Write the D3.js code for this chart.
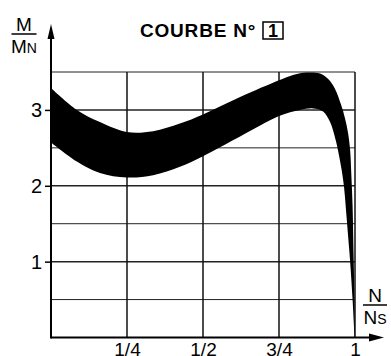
<!DOCTYPE html>
<html>
<head>
<meta charset="utf-8">
<script src="https://cdn.jsdelivr.net/npm/d3@7"></script>
<style>
  html, body { margin: 0; padding: 0; background: #fff; }
  svg { display: block; font-family: "Liberation Sans", Arial, Helvetica, sans-serif; }
</style>
</head>
<body>
<svg id="chart" width="391" height="356"></svg>
<script>
// Torque / speed band (M/MN versus N/NS): upper and lower limits
const upperSpeed  = [0.000, 0.085, 0.161, 0.249, 0.336, 0.424, 0.500, 0.622, 0.750, 0.789, 0.830, 0.885, 0.911, 0.934, 0.954, 0.967, 0.977, 0.984, 0.988, 0.992, 0.995, 0.998, 1.000];
const upperTorque = [3.29, 3.00, 2.84, 2.71, 2.72, 2.82, 2.94, 3.17, 3.39, 3.45, 3.49, 3.48, 3.41, 3.28, 3.07, 2.89, 2.70, 2.47, 2.14, 1.74, 1.15, 0.56, 0.00];
const lowerSpeed  = [0.000, 0.085, 0.161, 0.249, 0.336, 0.424, 0.500, 0.622, 0.750, 0.819, 0.862, 0.895, 0.918, 0.934, 0.944, 0.956, 0.964, 0.970, 0.977, 0.984, 0.992, 0.998];
const lowerTorque = [2.57, 2.32, 2.17, 2.11, 2.14, 2.25, 2.39, 2.65, 2.92, 3.00, 3.02, 2.98, 2.84, 2.64, 2.47, 2.21, 1.98, 1.70, 1.35, 1.00, 0.50, 0.05];

const xTickValues = [0.25, 0.5, 0.75, 1];
const xTickLabels = ["1/4", "1/2", "3/4", "1"];
const yTickValues = [1, 2, 3];
const yTickLabels = ["1", "2", "3"];
const yGridValues = [0.5, 1, 1.5, 2, 2.5, 3, 3.5];
const curveNumber = "1";

const svg = d3.select("#chart");
const x = d3.scaleLinear().domain([0, 1]).range([51, 355]);
const y = d3.scaleLinear().domain([0, 3.5]).range([337.5, 72]);

// grid
const grid = svg.append("g");
grid.selectAll("line.h").data(yGridValues).join("line")
  .attr("x1", x(0)).attr("x2", x(1))
  .attr("y1", d => y(d)).attr("y2", d => y(d))
  .attr("stroke", "#222")
  .attr("stroke-width", d => Number.isInteger(d) ? 1.5 : 1);
grid.selectAll("line.v").data(xTickValues).join("line")
  .attr("x1", d => x(d)).attr("x2", d => x(d))
  .attr("y1", y(0)).attr("y2", y(3.5))
  .attr("stroke", "#111")
  .attr("stroke-width", 1.5);

// band: area under the upper limit minus area under the lower limit
const smooth = d3.line().curve(d3.curveCatmullRom.alpha(0.5));
const upperPts = upperSpeed.map((s, i) => [x(s), y(upperTorque[i])]);
const lowerPts = lowerSpeed.map((s, i) => [x(s), y(lowerTorque[i])]);
const closeDown = p => `L${p[p.length - 1][0]},${y(0)}L${x(0)},${y(0)}Z`;
svg.append("path")
  .attr("d", smooth(upperPts) + closeDown(upperPts) + smooth(lowerPts) + closeDown(lowerPts))
  .attr("fill-rule", "evenodd")
  .attr("fill", "#000");

// axes
const xAxis = d3.axisBottom(x).tickValues(xTickValues)
  .tickFormat((d, i) => xTickLabels[i]).tickSize(0).tickPadding(5);
const gx = svg.append("g").attr("transform", `translate(0,${y(0)})`).call(xAxis);
gx.select(".domain").remove();
gx.selectAll(".tick text").attr("font-size", 19).attr("fill", "#000")
  .attr("font-family", "Liberation Sans, Arial, sans-serif");

const yAxis = d3.axisLeft(y).tickValues(yTickValues)
  .tickFormat((d, i) => yTickLabels[i]).tickSize(6).tickPadding(3);
const gy = svg.append("g").attr("transform", `translate(${x(0)},0)`).call(yAxis);
gy.select(".domain").remove();
gy.selectAll(".tick line").attr("stroke", "#000").attr("stroke-width", 1.5);
gy.selectAll(".tick text").attr("font-size", 20).attr("fill", "#000")
  .attr("font-family", "Liberation Sans, Arial, sans-serif");

// axis lines with arrows
svg.append("line").attr("x1", x(0)).attr("x2", 372).attr("y1", y(0)).attr("y2", y(0))
  .attr("stroke", "#000").attr("stroke-width", 2);
svg.append("path")
  .attr("d", `M384,${y(0)} L369,${y(0) - 4} L369,${y(0) + 4} Z`).attr("fill", "#000");
svg.append("line").attr("x1", x(0)).attr("x2", x(0)).attr("y1", y(0) + 1).attr("y2", 36)
  .attr("stroke", "#000").attr("stroke-width", 2);
svg.append("path")
  .attr("d", `M${x(0)},24 L${x(0) - 3.5},39 L${x(0) + 3.5},39 Z`).attr("fill", "#000");

// axis titles as fractions
function fraction(cx, topY, num, den, sub, lineW) {
  const g = svg.append("g");
  g.append("text").attr("x", cx).attr("y", topY).attr("text-anchor", "middle")
    .attr("font-size", 19).text(num);
  g.append("line").attr("x1", cx - lineW / 2).attr("x2", cx + lineW / 2)
    .attr("y1", topY + 3).attr("y2", topY + 3)
    .attr("stroke", "#000").attr("stroke-width", 1.5);
  const t = g.append("text").attr("x", cx).attr("y", topY + 22).attr("text-anchor", "middle")
    .attr("font-size", 19);
  t.append("tspan").text(den);
  t.append("tspan").attr("font-size", 14).text(sub);
}
fraction(24, 31, "M", "M", "N", 25);
fraction(375, 302, "N", "N", "S", 24);

// title
svg.append("text").attr("x", 140).attr("y", 37)
  .attr("font-size", 19).attr("font-weight", "bold").attr("letter-spacing", 0.8)
  .text("COURBE N°");
svg.append("rect").attr("x", 263).attr("y", 22).attr("width", 20).attr("height", 17)
  .attr("fill", "none").attr("stroke", "#000").attr("stroke-width", 1.5);
svg.append("text").attr("x", 273).attr("y", 37).attr("text-anchor", "middle")
  .attr("font-size", 18).attr("font-weight", "bold").text(curveNumber);
</script>
</body>
</html>
